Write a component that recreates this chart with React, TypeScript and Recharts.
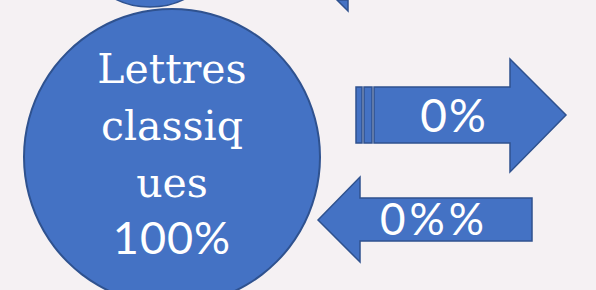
import React from 'react';
import { PieChart, Pie, Cell } from 'recharts';

const circleLines = ['Lettres', 'classiq', 'ues'];
const circleShare = [{ name: 'Lettres classiques', value: 100 }];
const arrowLabels = ['0%', '0%%'];

const FILL = '#4472C4';
const EDGE = '#2F528F';
const BG = '#F5F1F3';

const renderCircleLabel = ({ cx, cy }: any) => (
  <g>
    {circleLines.map((t, i) => (
      <text
        key={t}
        x={cx}
        y={cy - 74 + i * 57}
        textAnchor="middle"
        fill="#fff"
        fontFamily="'DejaVu Serif', serif"
        fontSize={41}
      >
        {t}
      </text>
    ))}
    <text x={cx} y={cy + 97} textAnchor="middle" fill="#fff" fontFamily="Lato, sans-serif" fontSize={45} letterSpacing={1}>
      {circleShare[0].value}%
    </text>
  </g>
);

const Arrows = () => (
  <g stroke={EDGE} strokeWidth={1.5} fill={FILL}>
    {/* cercle du haut, coupé */}
    <ellipse cx={150} cy={-40} rx={62} ry={47} />
    {/* pointe en haut */}
    <polygon points="337,0 348,0 348,11" />
    {/* flèche droite rayée */}
    <rect x={356} y={87} width={6} height={56} />
    <rect x={364} y={87} width={8} height={56} />
    <polygon points="374,87 510,87 510,59 566,115 510,172 510,143 374,143" />
    <text x={454} y={132} textAnchor="middle" fill="#fff" stroke="none" fontFamily="Lato, sans-serif" fontSize={46} letterSpacing={2}>
      {arrowLabels[0]}
    </text>
    {/* flèche gauche */}
    <polygon points="318,220 360,177 360,198 532,198 532,241 360,241 360,262" />
    <text x={434} y={235} textAnchor="middle" fill="#fff" stroke="none" fontFamily="Lato, sans-serif" fontSize={44} letterSpacing={4}>
      {arrowLabels[1]}
    </text>
  </g>
);

export default function App() {
  return (
    <div style={{ position: 'fixed', left: 0, top: 0, width: 596, height: 290, background: BG, overflow: 'hidden' }}>
      <PieChart width={596} height={290} margin={{ top: 0, right: 0, bottom: 0, left: 0 }}>
        <Arrows />
        <Pie
          data={circleShare}
          dataKey="value"
          cx={172}
          cy={157}
          outerRadius={148}
          startAngle={90}
          endAngle={450}
          stroke="none"
          isAnimationActive={false}
          labelLine={false}
          label={renderCircleLabel}
        >
          <Cell fill={FILL} />
        </Pie>
        <Pie
          data={circleShare}
          dataKey="value"
          cx={172}
          cy={157}
          innerRadius={147}
          outerRadius={149}
          startAngle={90}
          endAngle={450}
          stroke="none"
          isAnimationActive={false}
        >
          <Cell fill={EDGE} />
        </Pie>
      </PieChart>
    </div>
  );
}
